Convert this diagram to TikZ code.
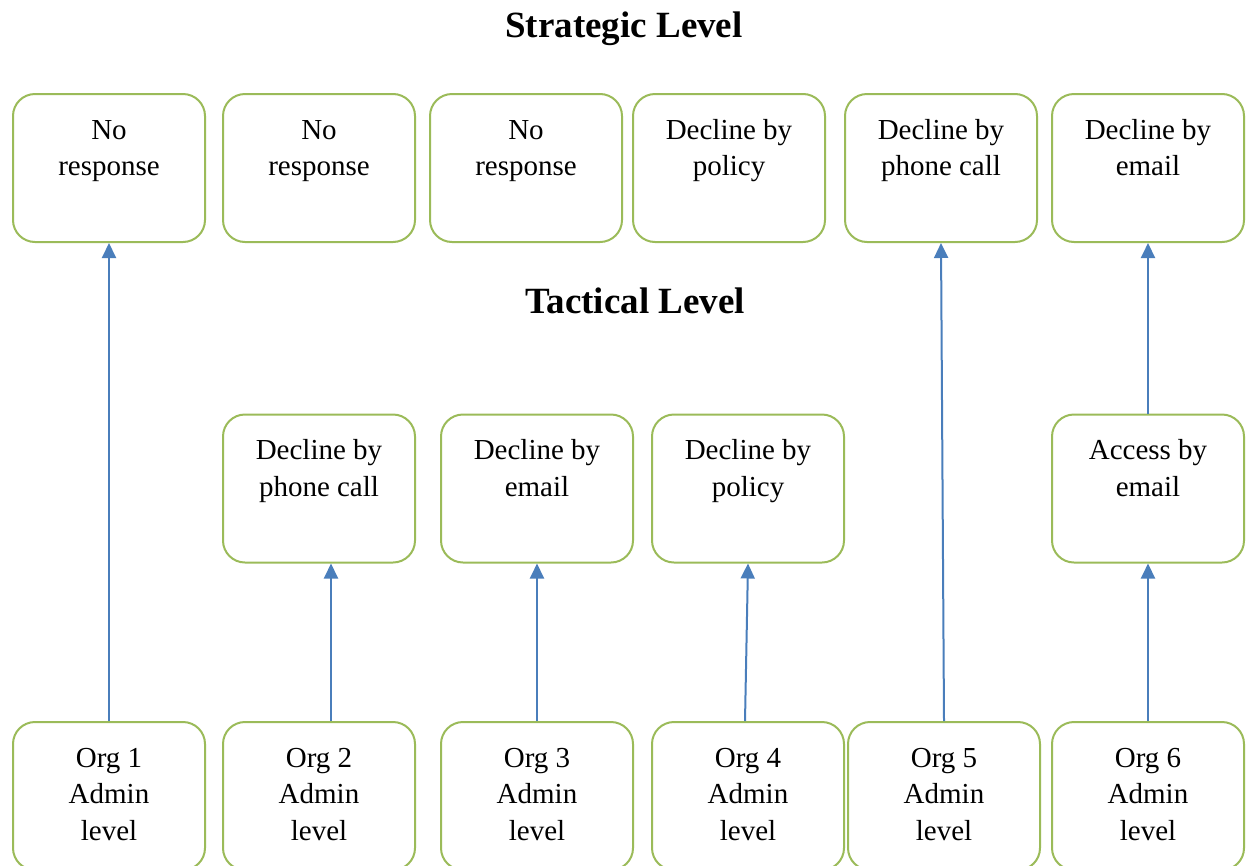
\documentclass[tikz,border=0pt]{standalone}
\usepackage{fontspec}
\setmainfont{Liberation Serif}
\usetikzlibrary{arrows.meta}
\definecolor{boxgreen}{HTML}{9BBB59}
\definecolor{linkblue}{HTML}{4A7EBB}
\tikzset{box/.style={draw=boxgreen, line width=2pt, rounded corners=22pt, anchor=north, inner sep=0pt,
		text width=192pt, align=flush center, text height=45pt, text depth=103pt, font=\fontsize{29}{36.5}\selectfont}}
\tikzset{link/.style={draw=linkblue, line width=2pt, -{Triangle[length=15pt,width=14pt]}}}
\tikzset{title/.style={anchor=base, font=\fontsize{37}{44}\selectfont\bfseries}}

\begin{document}
\begin{tikzpicture}[x=1pt, y=-1pt]
	\useasboundingbox (0,0) rectangle (1246,865);
	\node [title] (strat) at (624,37) {Strategic Level};
	\node [title] (tact) at (635,313) {Tactical Level};
	
	\foreach \n/\x/\txt in {s1/109/{No\\response}, s2/319/{No\\response}, s3/526/{No\\response}, s4/729/{Decline by\\policy}, s5/941/{Decline by\\phone call}, s6/1148/{Decline by\\email}} \node [box] (\n) at (\x,93) {\txt};
	\foreach \n/\x/\txt in {t2/319/{Decline by\\phone call}, t3/537/{Decline by\\email}, t4/748/{Decline by\\policy}, t6/1148/{Access by\\email}} \node [box] (\n) at (\x,413.5) {\txt};
	\foreach \n/\x in {1/109, 2/319, 3/537, 4/748, 5/944, 6/1148} \node [box] (o\n) at (\x,721) {Org \n\\Admin\\level};
	
	\draw [link] (o1.north) -- (s1.south);
	\draw [link] ([xshift=12pt]o2.north) -- ([xshift=12pt]t2.south);
	\draw [link] (o3.north) -- (t3.south);
	\draw [link] ([xshift=-3pt]o4.north) -- (t4.south);
	\draw [link] (o5.north) -- (s5.south);
	\draw [link] (o6.north) -- (t6.south);
	\draw [link] (t6.north) -- (s6.south);
\end{tikzpicture}
\end{document}
